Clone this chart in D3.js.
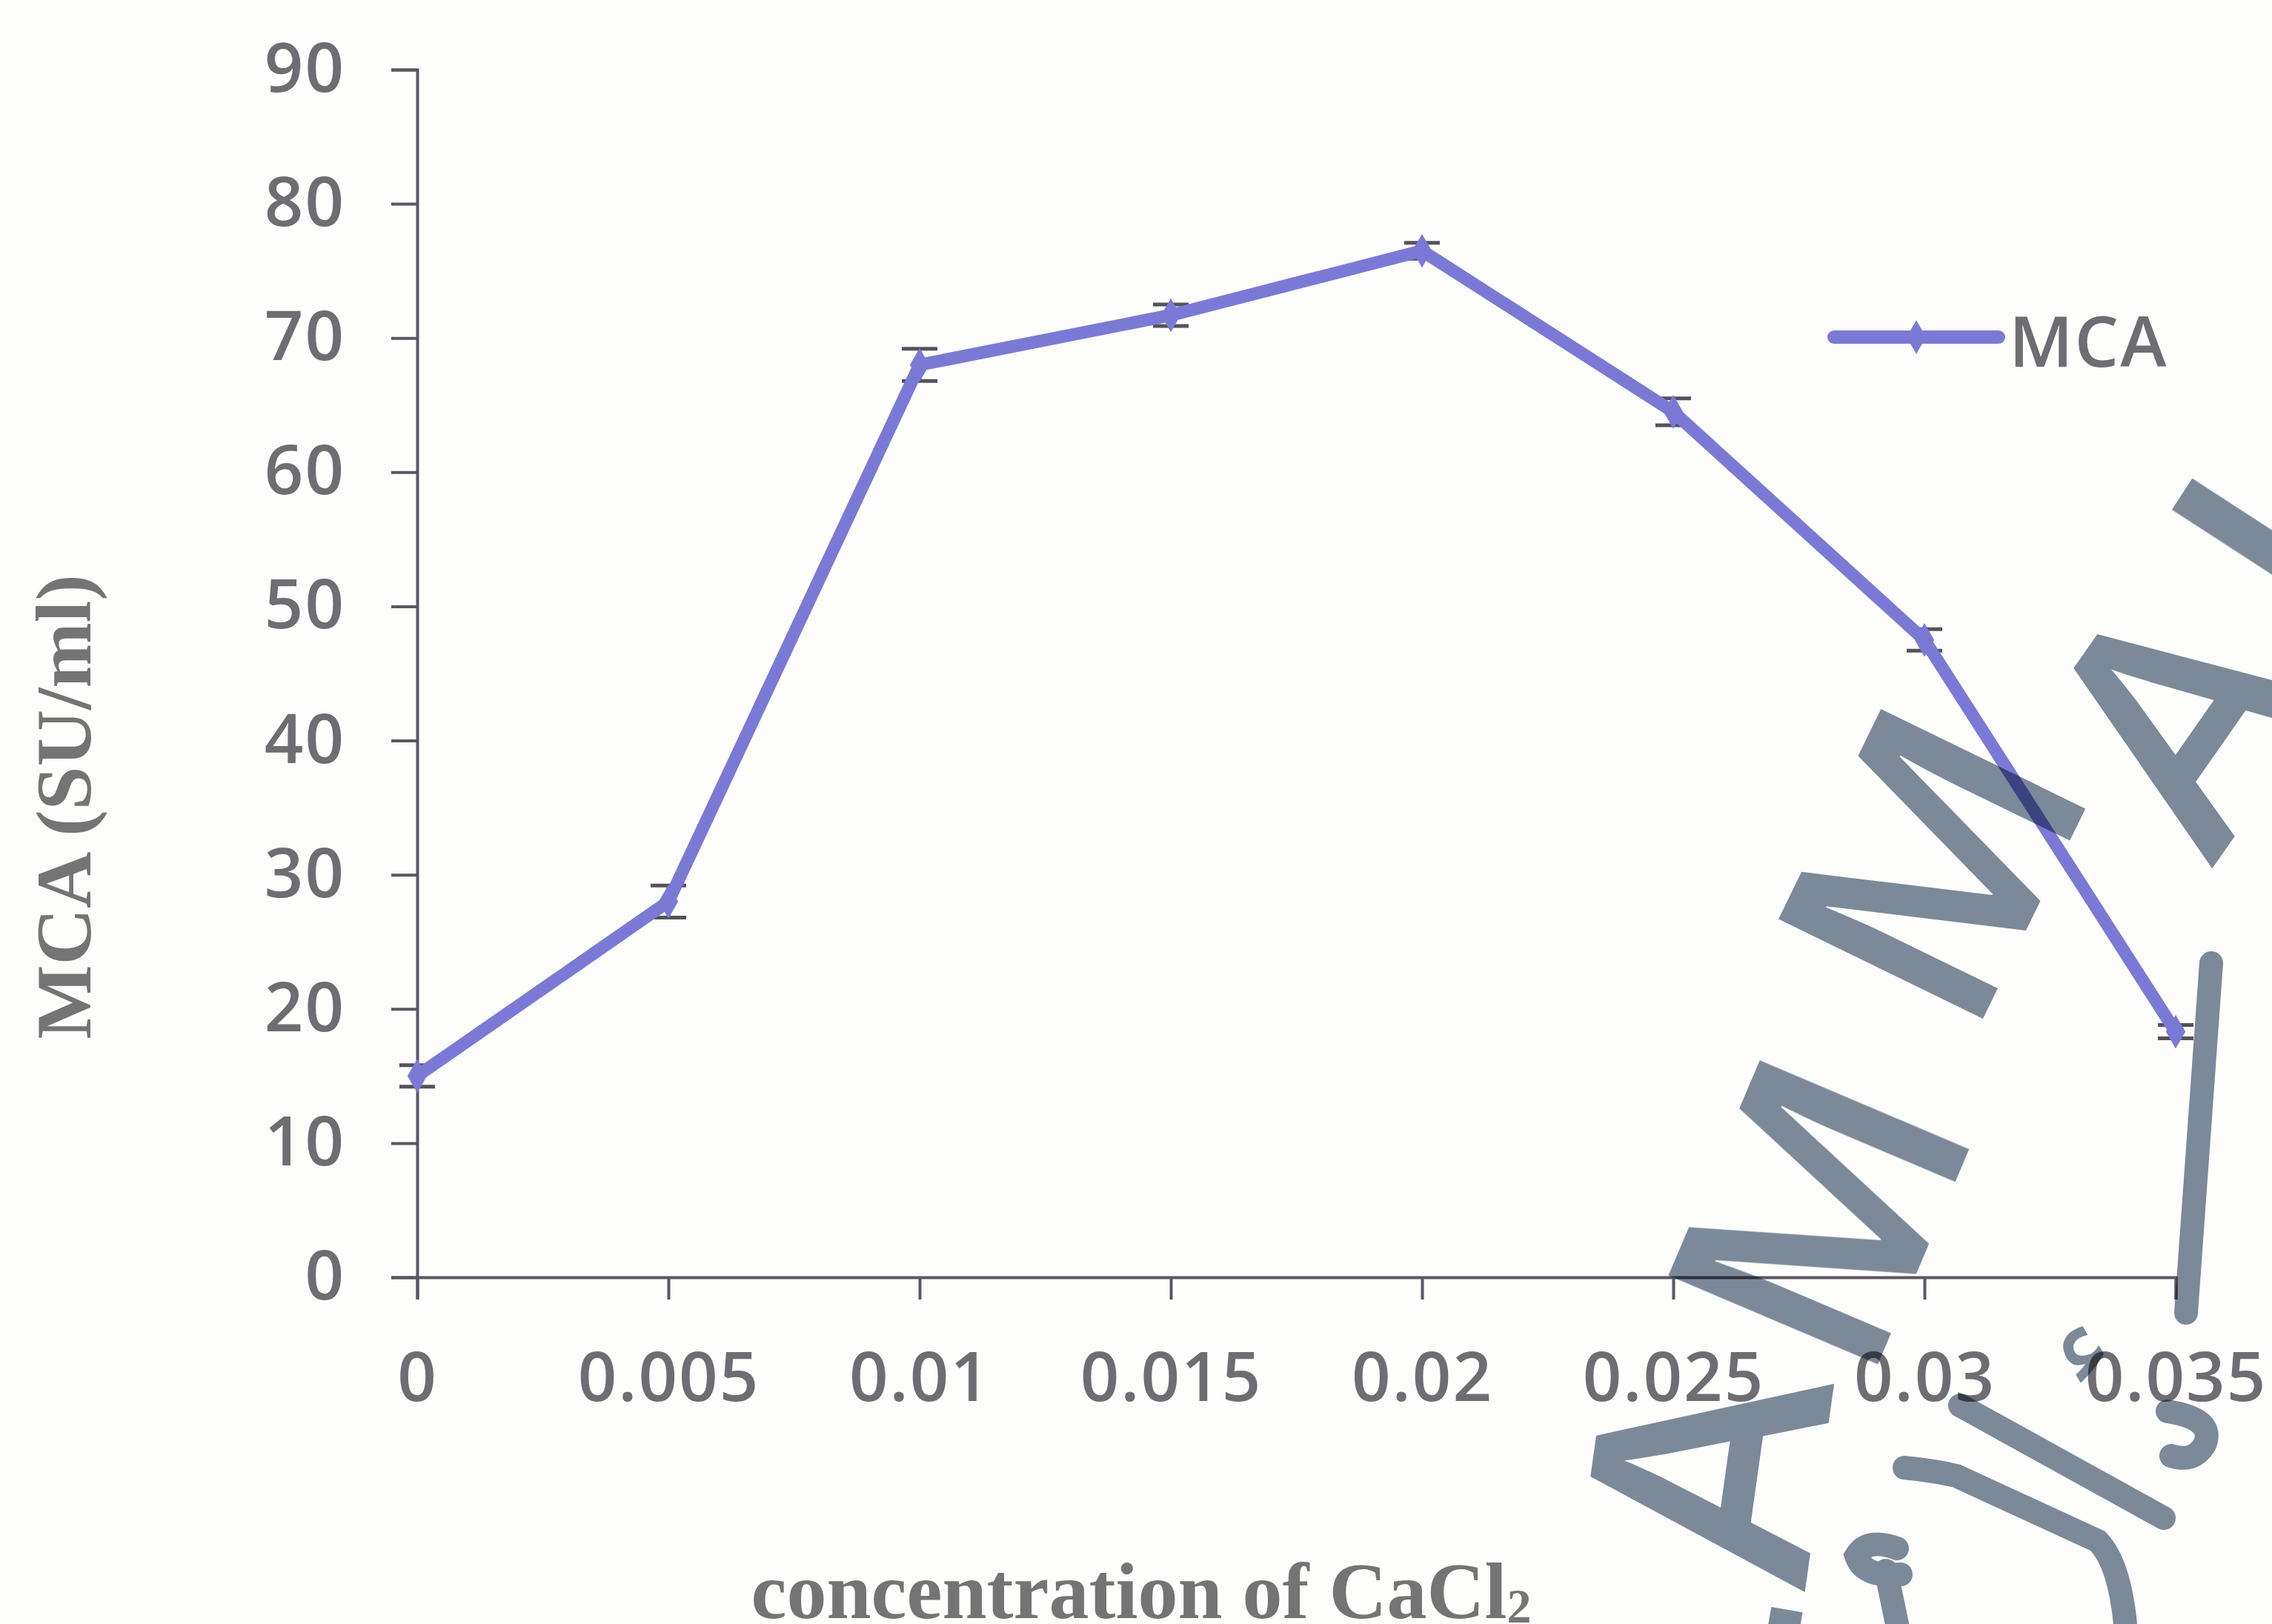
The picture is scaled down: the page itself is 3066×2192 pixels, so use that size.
<!DOCTYPE html>
<html>
<head>
<meta charset="utf-8">
<script src="https://cdn.jsdelivr.net/npm/d3@7"></script>
<style>
  html, body { margin: 0; padding: 0; background: #fdfdfc; }
  svg { display: block; }
</style>
</head>
<body>
<svg width="3066" height="2192"></svg>
<script>
// concentration of CaCl2 (x) vs MCA (SU/ml)
const concentrations = [0, 0.005, 0.01, 0.015, 0.02, 0.025, 0.03, 0.035];
const xTickLabels = ["0", "0.005", "0.01", "0.015", "0.02", "0.025", "0.03", "0.035"];
const mcaValues = [15, 28, 68, 71.7, 76.5, 64.5, 47.5, 18.3];
const mcaErrors = [0.8, 1.2, 1.2, 0.8, 0.6, 1.0, 0.8, 0.5];
const yTicks = [0, 10, 20, 30, 40, 50, 60, 70, 80, 90];
const seriesName = "MCA";

// scanned seal in the lower right: letters, where they sit and how they turn
const sealLetters = ["L", "A", "M", "M", "A", "L"];
const sealX = [2250, 2290, 2442, 2595, 2930, 3090];
const sealY = [2250, 1985, 1631, 1160, 960, 700];
const sealTurn = [-80, -82, -67, -64, -55, -57];

const lineColor = "#7a7ad6";
const textColor = "#6d6d72";
const axisColor = "#5b5660";
const sealColor = "#7d8a9a";

const svg = d3.select("svg");

const x = d3.scaleLinear().domain([0, 0.035]).range([563, 2936]);
const y = d3.scaleLinear().domain([0, 90]).range([1724, 94]);

const tickFont = "'Open Sans', sans-serif";

function styleTicks(g) {
  g.select(".domain").attr("stroke", axisColor).attr("stroke-width", 4);
  g.selectAll(".tick line").attr("stroke", axisColor).attr("stroke-width", 4);
  g.selectAll(".tick text")
    .attr("fill", textColor)
    .style("font-family", tickFont)
    .style("font-weight", "600")
    .style("font-size", "92px")
    .style("letter-spacing", "2px");
}

// y axis
svg.append("g")
  .attr("transform", `translate(${x(0)},0)`)
  .call(d3.axisLeft(y).tickValues(yTicks).tickSize(35).tickPadding(62))
  .call(styleTicks);

// x axis
svg.append("g")
  .attr("transform", `translate(0,${y(0)})`)
  .call(d3.axisBottom(x).tickValues(concentrations)
    .tickFormat((d, i) => xTickLabels[i]).tickSize(30).tickPadding(72))
  .call(styleTicks);

const data = concentrations.map((c, i) => ({ c: c, v: mcaValues[i], e: mcaErrors[i] }));

// error bars
const err = svg.append("g").attr("stroke", "#55525c").attr("stroke-width", 5);
err.selectAll(".bar").data(data).enter().append("line")
  .attr("x1", d => x(d.c)).attr("x2", d => x(d.c))
  .attr("y1", d => y(d.v + d.e)).attr("y2", d => y(d.v - d.e));
err.selectAll(".capTop").data(data).enter().append("line")
  .attr("x1", d => x(d.c) - 24).attr("x2", d => x(d.c) + 24)
  .attr("y1", d => y(d.v + d.e)).attr("y2", d => y(d.v + d.e));
err.selectAll(".capBottom").data(data).enter().append("line")
  .attr("x1", d => x(d.c) - 24).attr("x2", d => x(d.c) + 24)
  .attr("y1", d => y(d.v - d.e)).attr("y2", d => y(d.v - d.e));

// series line
const line = d3.line().x(d => x(d.c)).y(d => y(d.v));
svg.append("path")
  .datum(data)
  .attr("d", line)
  .attr("fill", "none")
  .attr("stroke", lineColor)
  .attr("stroke-width", 17)
  .attr("stroke-linejoin", "round");

const diamond = d3.symbol().type(d3.symbolDiamond).size(600);
svg.selectAll(".marker").data(data).enter().append("path")
  .attr("d", diamond)
  .attr("transform", d => `translate(${x(d.c)},${y(d.v)})`)
  .attr("fill", lineColor);

// legend
const legend = svg.append("g").attr("transform", "translate(2475,455)");
legend.append("line")
  .attr("x1", 0).attr("x2", 222).attr("y1", 0).attr("y2", 0)
  .attr("stroke", lineColor).attr("stroke-width", 18).attr("stroke-linecap", "round");
legend.append("path").attr("d", diamond).attr("transform", "translate(111,0)").attr("fill", lineColor);
legend.append("text")
  .attr("x", 236).attr("y", 4)
  .attr("dominant-baseline", "central")
  .attr("fill", textColor)
  .style("font-family", tickFont)
  .style("font-weight", "600")
  .style("font-size", "94px")
  .style("letter-spacing", "2px")
  .text(seriesName);

// axis titles
svg.append("text")
  .attr("transform", "translate(122,1089) rotate(-90)")
  .attr("text-anchor", "middle")
  .attr("fill", "#747474")
  .style("font-family", "'Liberation Serif', 'Times New Roman', serif")
  .style("font-weight", "bold")
  .style("font-size", "106px")
  .text("MCA (SU/ml)");

const xTitle = svg.append("text")
  .attr("x", 1540).attr("y", 2184)
  .attr("text-anchor", "middle")
  .attr("fill", "#747474")
  .style("font-family", "'Liberation Serif', 'Times New Roman', serif")
  .style("font-weight", "bold")
  .style("font-size", "108px");
xTitle.append("tspan").text("concentration of CaCl");
xTitle.append("tspan").attr("font-size", "66px").attr("dy", "6").text("2");

// watermark seal, drawn on top and multiplied like the scanned stamp
const seal = svg.append("g")
  .style("mix-blend-mode", "multiply")
  .attr("fill", sealColor)
  .attr("stroke", sealColor);
seal.selectAll(".letter").data(sealLetters).enter().append("text")
  .attr("transform", (d, i) => `translate(${sealX[i]},${sealY[i]}) rotate(${sealTurn[i]})`)
  .attr("text-anchor", "middle")
  .attr("dominant-baseline", "central")
  .attr("stroke", "none")
  .style("font-family", "'Open Sans', sans-serif")
  .style("font-weight", "600")
  .style("font-size", "430px")
  .text(d => d);

// jawi strokes of the inner ring
const jawi = [
  "M2984,1300 L2950,1772",
  "M2645,1897 L2920,2049",
  "M2570,1981 Q2610,1985 2640,1992 L2831,2080 Q2860,2110 2868,2192",
  "M2925,1905 Q2990,1915 2975,1950 Q2960,1975 2930,1965",
  "M2560,2090 Q2520,2075 2505,2100 Q2515,2130 2565,2125 M2545,2120 L2560,2192",
];
seal.selectAll(".jawi").data(jawi).enter().append("path")
  .attr("d", d => d)
  .attr("fill", "none")
  .attr("stroke-width", 32)
  .attr("stroke-linecap", "round");
seal.append("text")
  .attr("transform", "translate(2805,1815) rotate(-30)")
  .attr("text-anchor", "middle")
  .attr("dominant-baseline", "central")
  .attr("stroke", "none")
  .style("font-family", "'DejaVu Sans', sans-serif")
  .style("font-size", "150px")
  .text("ء");
</script>
</body>
</html>
